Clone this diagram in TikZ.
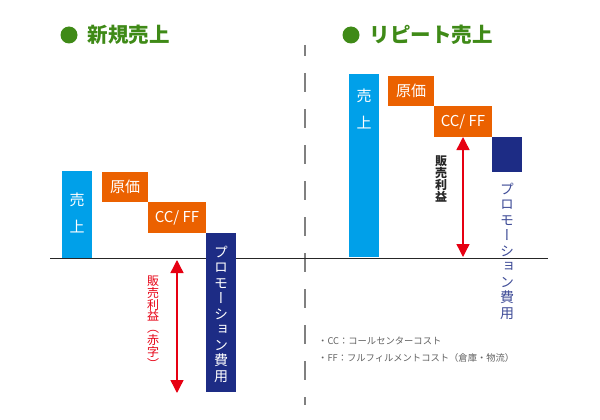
\documentclass[tikz,border=0pt]{standalone}
\usepackage{fontspec}
\setmainfont{Noto Sans CJK JP}
\newfontfamily\vjp[RawFeature=+vert]{Noto Sans CJK JP}
\usetikzlibrary{arrows.meta,positioning}
\definecolor{salesblue}{HTML}{00A0E9}
\definecolor{costorange}{HTML}{EB6100}
\definecolor{promonavy}{HTML}{1D2C85}
\definecolor{profitred}{HTML}{E60012}
\definecolor{titlegreen}{HTML}{3F8A17}
\begin{document}
\begin{tikzpicture}[
	x=1pt, y=-1pt,
	bar/.style={rectangle,fill=salesblue,inner sep=0pt,minimum width=30pt},
	cost/.style={rectangle,fill=costorange,text=white,inner sep=0pt,
	minimum height=30pt,font=\fontsize{15}{15}\selectfont},
	promo/.style={rectangle,fill=promonavy,inner sep=0pt,minimum width=30pt},
	vtext/.style={align=center,inner sep=0pt},
	force/.style={>={Triangle[length=13pt,width=13pt]},draw=profitred,line width=1.4pt,<->},
	title/.style={anchor=west,inner sep=0pt,text=titlegreen,font=\fontsize{20.5}{20.5}\selectfont\bfseries},
	dot/.style={circle,fill=titlegreen,inner sep=0pt,minimum size=17pt},
	note/.style={anchor=west,inner sep=0pt,text=black!62,font=\fontsize{9.3}{9.3}\selectfont},
	]
	\useasboundingbox (0,0) rectangle (600,420);
	% titles
	\node[dot] (dot1) at (69,35) {};
	\node[title, right=10pt of dot1] (title1) {新規売上};
	\node[dot] (dot2) at (351,35) {};
	\node[title, right=10pt of dot2] (title2) {リピート売上};
	% divider and base line
	\coordinate (div_t) at (305,45);
	\coordinate (div_b) at (305,405);
	\draw[gray, line width=1.2pt, dash pattern=on 19pt off 17pt, dash phase=8pt] (div_t) -- (div_b);
	\coordinate (base_l) at (50,258);
	\coordinate (base_r) at (548,258);
	\draw[black!85, line width=1pt] (base_l) -- (base_r);
	% new sales
	\node[bar, minimum height=87pt] (sales1) at (77,214.5) {};
	\node[vtext, text=white, font=\fontsize{15}{27}\selectfont] (saleslabel1) at (77,212.5) {売\\上};
	\node[cost, minimum width=46pt] (cost1) at (125,187) {原価};
	\node[cost, minimum width=58pt, minimum height=31pt] (ccff1) at (177,217.5) {CC/ FF};
	\node[promo, minimum height=159pt] (promo1) at (221,312.5) {};
	\node[vtext, text=white, font=\vjp\fontsize{14}{15.5}\selectfont] (promolabel1) at (221,314)
		{プ\\ロ\\モ\\ー\\シ\\ョ\\ン\\費\\用};
	\coordinate (arr1_t) at (177,260);
	\coordinate (arr1_b) at (177,393);
	\draw[force] (arr1_t) -- (arr1_b);
	\node[vtext, text=profitred, font=\vjp\fontsize{12}{11.8}\selectfont] (profit1) at (153,322)
		{販\\売\\利\\益\\（\\赤\\字\\）};
	% repeat sales
	\node[bar, minimum height=183pt] (sales2) at (364,165.5) {};
	\node[vtext, text=white, font=\fontsize{15}{27}\selectfont] (saleslabel2) at (364,108.7) {売\\上};
	\node[cost, minimum width=46pt] (cost2) at (411,91) {原価};
	\node[cost, minimum width=58pt, minimum height=31pt] (ccff2) at (463,121.5) {CC/ FF};
	\node[promo, minimum height=35pt] (promo2) at (507,154.5) {};
	\node[vtext, text=promonavy!85, font=\vjp\fontsize{14}{15.5}\selectfont] (promolabel2) at (507,251)
		{プ\\ロ\\モ\\ー\\シ\\ョ\\ン\\費\\用};
	\coordinate (arr2_t) at (463,137);
	\coordinate (arr2_b) at (463,257);
	\draw[force] (arr2_t) -- (arr2_b);
	\node[vtext, text=black!85, font=\vjp\fontsize{12}{12}\selectfont\bfseries] (profit2) at (441,179)
		{販\\売\\利\\益};
	% notes
	\node[note] (note1) at (318,341) {・CC：コールセンターコスト};
	\node[note] (note2) at (318,358) {・FF：フルフィルメントコスト（倉庫・物流）};
\end{tikzpicture}
\end{document}
